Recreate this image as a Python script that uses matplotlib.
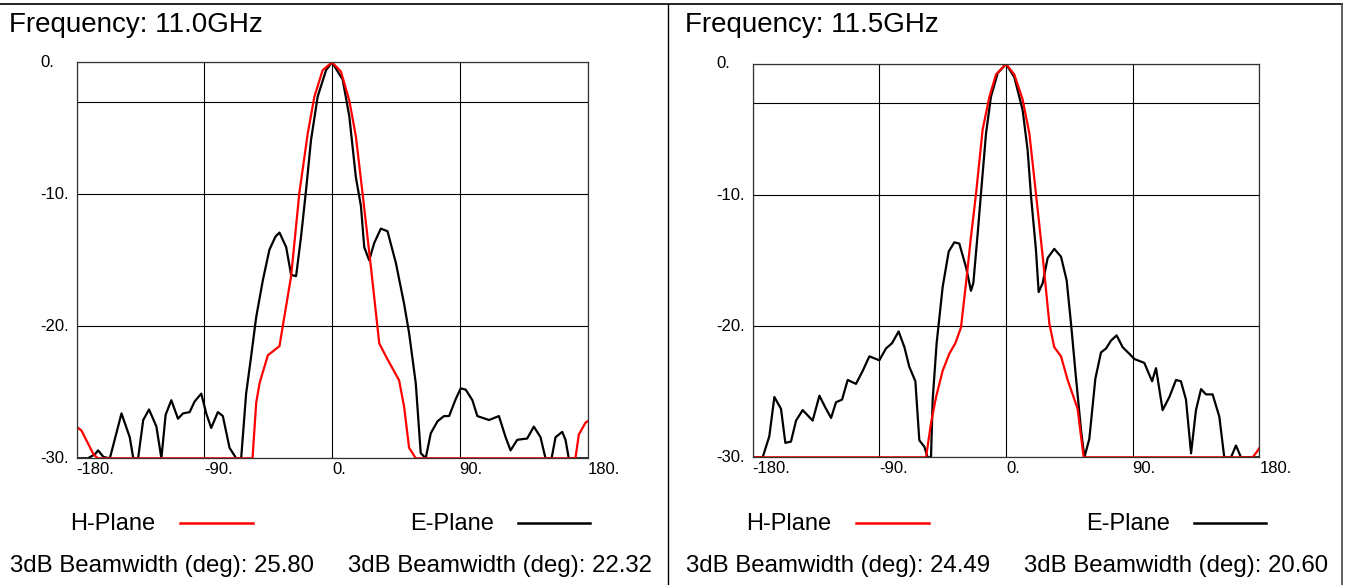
"""
Antenna pattern plot, H-plane and E-plane at two frequencies.
"""

import numpy as np
import matplotlib
matplotlib.use("Agg")
import matplotlib.pyplot as plt

W, H = 1352, 585

freqs = ["11.0GHz", "11.5GHz"]
bw_h = ["25.80", "24.49"]
bw_e = ["22.32", "20.60"]

x_ticks = [-180, -90, 0, 90, 180]
x_tick_labels = ["-180.", "-90.", "0.", "90.", "180."]
y_ticks = [0, -10, -20, -30]
y_tick_labels = ["0.", "-10.", "-20.", "-30."]

# 11.0 GHz, H-plane (red)
h110_ang = [-180, -176.5, -168, -165, -120, -80, -56, -53.4, -51, -45.2, -37, -34.7, -28.8,
            -23, -17.1, -12.4, -6.6, 0, 6.3, 12.2, 16.8, 21.5, 27.4, 33.3, 39.1, 47.3,
            50.8, 54.3, 59, 120, 171.5, 173.9, 178.6, 180]
h110_db = [-27.6, -27.9, -29.7, -30, -30, -30, -30, -25.8, -24.3, -22.2, -21.5, -20, -16.2,
           -9.9, -5.4, -2.6, -0.6, 0, -0.7, -2.9, -5.6, -9.9, -15.5, -21.3, -22.5, -24.1,
           -26.1, -29.2, -30, -30, -30, -28.2, -27.3, -27.2]

# 11.0 GHz, E-plane (black)
e110_ang = [-180, -172, -167, -164.8, -161, -156.5, -148.3, -142.5, -140, -136.6, -133, -128.9,
            -123.7, -120.2, -117.2, -113.2, -108.5, -105, -100.3, -96.8, -92.1, -88.6, -85.1,
            -80.4, -76.9, -72.2, -67.5, -64, -60.5, -57, -53.4, -48.7, -44.1, -39.8, -37,
            -32.3, -28.8, -25.3, -21.8, -18.3, -14.8, -10.1, -4.2, 0, 7.5, 12.2, 16.8, 20.4,
            22.7, 26.2, 29.7, 34.4, 39.1, 45, 50.8, 54.3, 59, 62.5, 66, 69.6, 74.3, 78.9,
            82.5, 87.2, 90.7, 94.2, 98.9, 102.4, 110.6, 117.6, 122.3, 125.8, 130.5, 137.5,
            142.2, 146.9, 150.4, 154.7, 157.5, 162.2, 164.5, 166.8, 180]
e110_db = [-30, -30, -29.7, -29.4, -29.9, -30, -26.6, -28.4, -30, -30, -27.1, -26.3,
           -27.6, -30, -26.7, -25.6, -27, -26.6, -26.5, -25.7, -25.1, -26.6, -27.7,
           -26.5, -26.8, -29.2, -30, -30, -25.1, -22.3, -19.3, -16.5, -14.2, -13.2, -12.9,
           -14, -16.1, -16.2, -13.2, -9.7, -5.9, -2.6, -0.6, 0, -1.3, -4.1, -8.7, -10.9,
           -14, -15, -13.7, -12.6, -12.8, -15.2, -18.3, -20.5, -24.3, -29.6, -30, -28.1,
           -27.2, -26.8, -26.8, -25.5, -24.7, -24.8, -25.6, -26.8, -27.1, -26.8, -28.4,
           -29.4, -28.6, -28.5, -27.6, -28.4, -30, -30, -28.4, -28, -28.6, -30, -30]

# 11.5 GHz, H-plane (red)
h115_ang = [-180, -120, -56.8, -53.3, -49.7, -45, -40.3, -36, -32, -28.4, -24.9, -21.3,
            -16.6, -11.8, -7.1, 0, 5.9, 11.8, 16.6, 21.3, 26.1, 30.8, 34.3, 39.1, 43.8,
            50.9, 53.3, 55.2, 120, 175.3, 178.8, 180]
h115_db = [-30, -30, -30, -27.4, -25.4, -23.4, -22.1, -21.3, -20.1, -16.7, -13.2, -9.9,
           -5, -2.5, -0.8, 0, -0.8, -2.7, -5.3, -9.9, -14.7, -19.8, -21.6, -22.3, -24.1,
           -26.3, -28.4, -30, -30, -30, -29.5, -29.3]

# 11.5 GHz, E-plane (black)
e115_ang = [-180, -172.9, -168.2, -164.6, -159.9, -156.8, -152.8, -149.2, -144.5, -137.4,
            -132.6, -128.4, -124.3, -120.8, -116.5, -112.5, -106.6, -101.8, -97.1, -90,
            -85.3, -81, -76.3, -72.2, -68.7, -64.4, -61.6, -58, -55.7, -53.3, -52.1, -49.3,
            -45, -40.7, -36.7, -33.2, -28.4, -24.9, -23.2, -20.1, -17.8, -14.2, -10.7, -5.9,
            0, 5.9, 11.8, 15.4, 17.8, 21.3, 23.2, 26.1, 29.6, 34.3, 39.1, 43.1, 46.2, 49.7,
            53.3, 55.7, 59.2, 63.5, 67.5, 71.1, 74.6, 78.6, 82.9, 87.6, 91.2, 98.3, 103.8,
            106.6, 111.3, 116.1, 120.8, 124.3, 127.9, 131.5, 135, 138.6, 142.1, 146.8,
            151.6, 155.1, 159.9, 163.4, 167, 180]
e115_db = [-30, -30, -28.4, -25.4, -26.3, -28.9, -28.8, -27.2, -26.4, -27.2,
           -25.3, -26.2, -27, -25.8, -25.6, -24.1, -24.4, -23.4, -22.3, -22.6,
           -21.7, -21.3, -20.4, -21.6, -23.1, -24.2, -28.7, -29.2, -30, -30, -25.6, -21.3,
           -17, -14.3, -13.6, -13.7, -15.5, -17.3, -16.7, -12.9, -9.9, -5.3, -2.5, -0.7,
           0, -1, -3.5, -6.6, -10.1, -14.2, -17.4, -16.7, -14.8, -14.1, -14.7, -16.5, -19.8,
           -23.9, -27.9, -30, -28.6, -24, -22, -21.7, -21.1, -20.7, -21.6, -22.1, -22.5,
           -22.8, -24.2, -23.2, -26.4, -25.4, -24.1, -24.2, -25.6, -29.7, -26.4, -24.8,
           -25.2, -25.2, -26.9, -30, -30, -29.1, -30, -30]

FONT = ["Liberation Sans", "Arial", "DejaVu Sans"]
TICKFONT = ["Liberation Sans Narrow", "Liberation Sans", "DejaVu Sans"]


def px_rect(x0, y0, x1, y1):
    # pixel box (top-left origin) -> figure fraction rect
    return [x0 / W, 1 - y1 / H, (x1 - x0) / W, (y1 - y0) / H]


def draw_panel(fig, bg, box, dx, freq, h_ang, h_db, e_ang, e_db, bwh, bwe):
    ax = fig.add_axes(px_rect(*box))
    ax.plot(e_ang, e_db, color="black", lw=1.6, zorder=3)
    ax.plot(h_ang, h_db, color="#ff0000", lw=1.6, zorder=4)
    ax.set_xlim(-180, 180)
    ax.set_ylim(-30, 0)

    ax.set_xticks(x_ticks)
    ax.set_xticklabels(x_tick_labels, ha="left", family=TICKFONT, fontsize=12)
    ax.set_yticks(y_ticks)
    ax.set_yticklabels(y_tick_labels, ha="left", va="center", family=TICKFONT, fontsize=12)
    ax.tick_params(axis="x", length=0, pad=3)
    ax.tick_params(axis="y", length=0, pad=26)

    ax.grid(True, color="black", lw=0.8)
    ax.axhline(-3, color="black", lw=0.8)
    for s in ax.spines.values():
        s.set_linewidth(0.9)
        s.set_color("#333333")
        s.set_zorder(6)

    bg.text(dx + 9, 25, "Frequency: " + freq, fontsize=20, family=FONT, va="center", ha="left")
    bg.text(dx + 70, 524, "H-Plane", fontsize=17, family=FONT, va="center", ha="left")
    bg.plot([dx + 180, dx + 253], [523, 523], color="#ff0000", lw=1.8)
    bg.text(dx + 410, 524, "E-Plane", fontsize=17, family=FONT, va="center", ha="left")
    bg.plot([dx + 518, dx + 590], [523, 523], color="black", lw=1.8)
    bg.text(dx + 10, 566, "3dB Beamwidth (deg): " + bwh, fontsize=17.3, family=FONT,
            va="center", ha="left")
    bg.text(dx + 348, 566, "3dB Beamwidth (deg): " + bwe, fontsize=17.3, family=FONT,
            va="center", ha="left")
    return ax


def main(out_path="out.png"):
    fig = plt.figure(figsize=(W / 100, H / 100), dpi=100)
    bg = fig.add_axes([0, 0, 1, 1])
    bg.set_xlim(0, W)
    bg.set_ylim(H, 0)
    bg.axis("off")

    # frame lines
    bg.plot([0, 1342], [4, 4], color="black", lw=1.2)
    bg.plot([1342, 1342], [4, H], color="#444444", lw=1.2)
    bg.plot([668, 668], [4, H], color="black", lw=1.0)

    draw_panel(fig, bg, (76.5, 62.3, 587.5, 458.3), 0, freqs[0],
               h110_ang, h110_db, e110_ang, e110_db, bw_h[0], bw_e[0])
    draw_panel(fig, bg, (752.7, 64, 1259.3, 457.3), 676, freqs[1],
               h115_ang, h115_db, e115_ang, e115_db, bw_h[1], bw_e[1])

    fig.savefig(out_path, dpi=100)
    print(f"Saved: {out_path}")


if __name__ == "__main__":
    main()
